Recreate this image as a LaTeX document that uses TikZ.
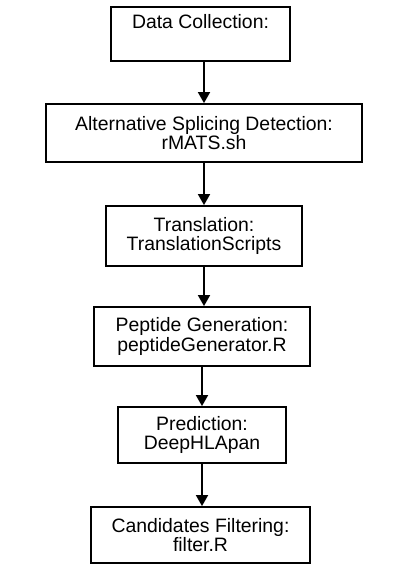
\documentclass[tikz,border=0pt]{standalone}
\usepackage{fontspec}
\setmainfont{Liberation Sans}
\usetikzlibrary{arrows.meta}
\begin{document}
\begin{tikzpicture}[x=1pt,y=1pt,
  stepbox/.style={draw=black, line width=1.8pt, fill=white, inner sep=0pt, align=center,
    font=\fontsize{19.4}{19.4}\selectfont, text=black},
  arr/.style={line width=1.8pt, -{Triangle[width=12pt,length=11pt]}}]
\useasboundingbox[fill=white] (0,0) rectangle (411,-571);
\node[stepbox, minimum width=179pt, minimum height=54pt] (B1) at (200.5,-34) {Data Collection:\\\strut};
\node[stepbox, minimum width=316pt, minimum height=58pt] (B2) at (204,-133) {Alternative Splicing Detection:\\rMATS.sh};
\node[stepbox, minimum width=196pt, minimum height=60pt] (B3) at (204,-236) {Translation:\\TranslationScripts};
\node[stepbox, minimum width=216pt, minimum height=59pt] (B4) at (202,-336.5) {Peptide Generation:\\peptideGenerator.R};
\node[stepbox, minimum width=168pt, minimum height=56pt] (B5) at (202,-435) {Prediction:\\DeepHLApan};
\node[stepbox, minimum width=219pt, minimum height=56pt] (B6) at (200.5,-535) {Candidates Filtering:\\filter.R};
\draw[arr] (B1.south -| B2.north) -- (B2.north);
\draw[arr] (B2.south) -- (B3.north);
\draw[arr] (B3.south) -- (B3.south |- B4.north);
\draw[arr] (B4.south) -- (B5.north);
\draw[arr] (B5.south) -- (B5.south |- B6.north);
\end{tikzpicture}
\end{document}
